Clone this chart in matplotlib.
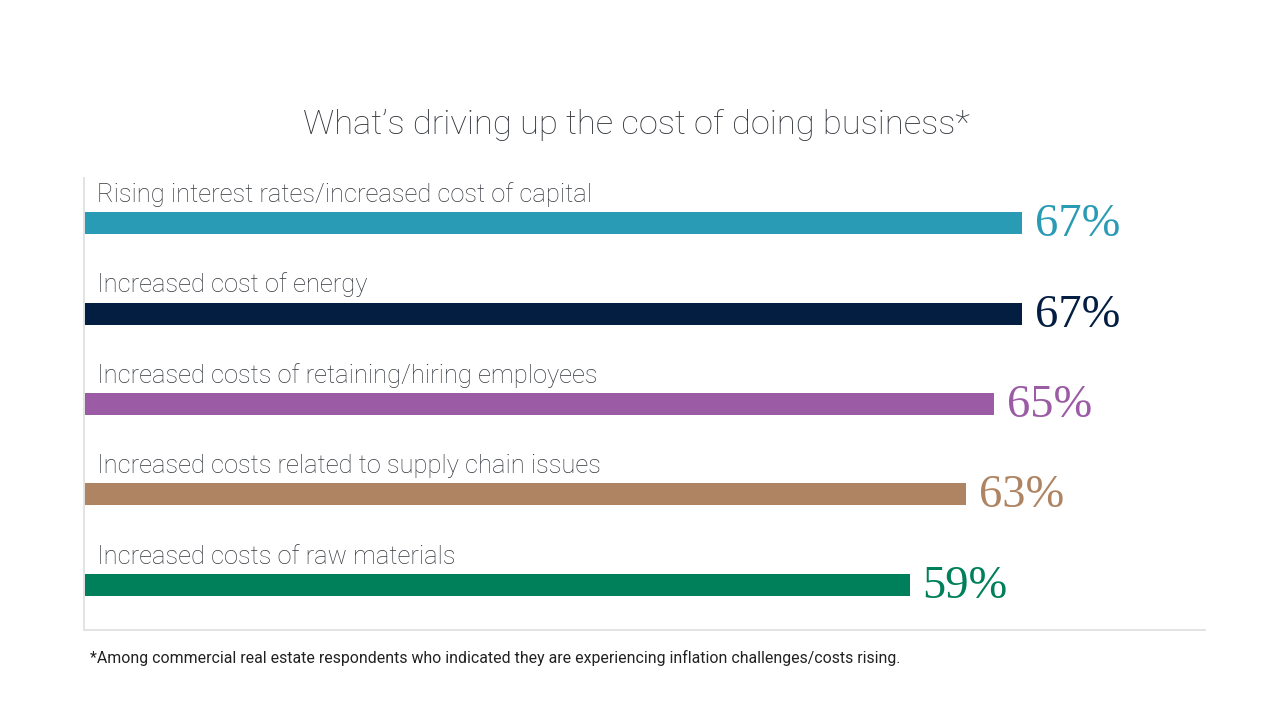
import matplotlib.pyplot as plt

categories = ['Rising interest rates/increased cost of capital',
              'Increased cost of energy',
              'Increased costs of retaining/hiring employees',
              'Increased costs related to supply chain issues',
              'Increased costs of raw materials']
values = [67, 67, 65, 63, 59]
colors = ['#2a9bb5', '#041e42', '#9b5ba5', '#ae8462', '#00805a']

title = 'What\u2019s driving up the cost of doing business*'
footnote = '*Among commercial real estate respondents who indicated they are experiencing inflation challenges/costs rising.'

txt = '#33373d'
sans = ['Roboto', 'DejaVu Sans']

fig = plt.figure(figsize=(12.8, 7.01), dpi=100)
ax = fig.add_axes([84/1280, 71/701, 1121/1280, 452/701])

pos = list(range(len(values)))
ax.barh(pos, values, height=0.243, color=colors, left=0)
ax.set_xlim(0, 80.07)
ax.set_ylim(4.5, -0.5)

for i in pos:
    ax.text(0.93, i - 0.235, categories[i], fontsize=18.4, color=txt,
            family=sans, fontweight='light', va='baseline', ha='left')
    ax.text(values[i] + 0.9, i + 0.02, f'{values[i]}%', fontsize=33.5,
            color=colors[i], family='Liberation Serif', va='center', ha='left')

for s in ['top', 'right']:
    ax.spines[s].set_visible(False)
for s in ['left', 'bottom']:
    ax.spines[s].set_color('#e3e3e3')
    ax.spines[s].set_linewidth(1.4)
ax.set_xticks([])
ax.set_yticks([])

fig.text(0.497, 1 - 125/701, title, fontsize=24.8, color=txt, family=sans,
         fontweight='light', ha='center', va='center')
fig.text(90/1280, 1 - 658/701, footnote, fontsize=11.4, color='#222222',
         family=sans, ha='left', va='center')

fig.savefig('out.png', dpi=100, facecolor='white')
